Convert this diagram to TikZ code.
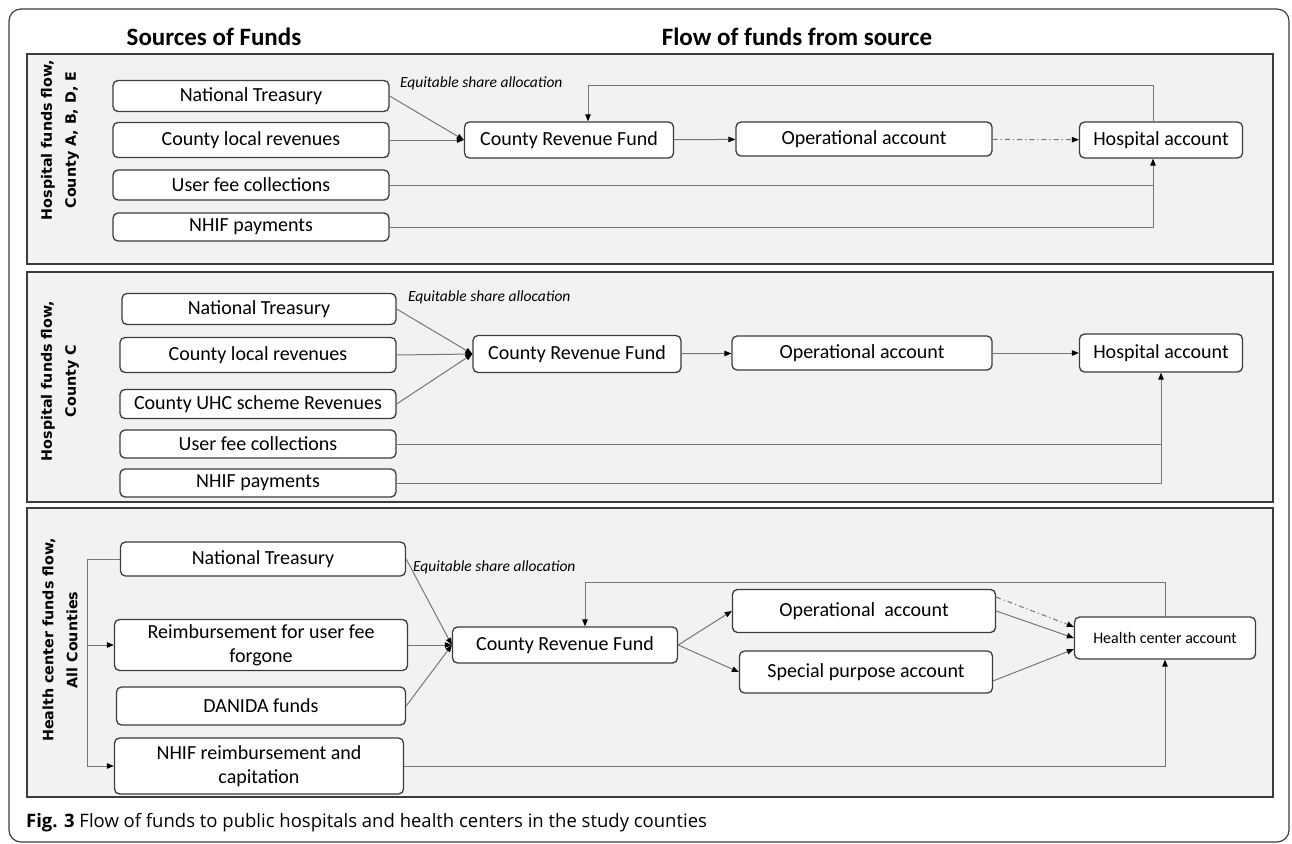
\documentclass[tikz,border=0pt]{standalone}
\usepackage{fontspec}
\setmainfont{Carlito}
\newfontfamily\sidefont{DejaVu Sans}
\newfontfamily\capfont{Open Sans}
\usetikzlibrary{arrows.meta}
\definecolor{panelgray}{HTML}{F2F2F2}
\definecolor{edgegray}{HTML}{3C3C3C}
\definecolor{linegray}{HTML}{767676}

\begin{document}
\begin{tikzpicture}[
  x=1pt,
  y=-1pt,
  inner sep=0pt,
%  text height=1.7ex,
%  text depth=.25ex,
  box/.style={
    draw=edgegray,
    line width=1.3pt,
    fill=white,
    rounded corners=5pt,
    align=center,
    font=\fontsize{20}{24}\selectfont
  },
  size/.style 2 args={
    minimum width=#1pt,
    minimum height=#2pt
  },
  panel/.style={
    draw=edgegray,
    line width=1.5pt,
    fill=panelgray
  },
  side/.style={
    rotate=90,
    align=center,
    font=\sidefont\bfseries\fontsize{14.3}{24}\selectfont
  },
  head/.style={
    font=\bfseries\fontsize{25}{30}\selectfont
  },
  note/.style={
    anchor=west,
    font=\itshape\fontsize{15.5}{18}\selectfont
  },
  line/.style={
    draw=linegray,
    line width=1pt
  },
  a/.style={
    -{Triangle[length=7pt,width=5.5pt,color=black]},
    line
  },
  dashdot/.style={
    dash pattern=on 5pt off 3pt on 1.2pt off 3pt
  }
  ]

  \useasboundingbox (0,0) rectangle (1292,843);
  \draw [draw=edgegray,line width=1.2pt,rounded corners=12pt] (9,9) rectangle (1289,842);

  \node (head-src) [head] at (214,37) {Sources of Funds};
  \node (head-flow) [head] at (797,37) {Flow of funds from source};

  \draw [panel] (27,54) rectangle (1273,264);
  \draw [panel] (27,272) rectangle (1273,502);
  \draw [panel] (27,508) rectangle (1273,797);

  \node (side-a) [side] at (60,140) {Hospital funds flow,\\County A, B, D, E};
  \node (side-b) [side] at (60,381) {Hospital funds flow,\\County C};
  \node (side-c) [side] at (60,640) {Health center funds flow,\\All Counties};

  % hospitals, counties A, B, D, E
  \node (nt-a) [box,size={276}{31}] at (251,96) {National Treasury};
  \node (clr-a) [box,size={276}{35}] at (251,140) {County local revenues};
  \node (ufc-a) [box,size={276}{30}] at (251,185) {User fee collections};
  \node (nhif-a) [box,size={276}{28}] at (251,227) {NHIF payments};
  \node (crf-a) [box,size={209}{36}] at (569,140) {County Revenue Fund};
  \node (op-a) [box,size={256}{34}] at (864,139) {Operational account};
  \node (hosp-a) [box,size={163}{36}] at (1161,140) {Hospital account};
  \node (esa-a) [note] at (400,83) {Equitable share allocation};
  \coordinate (fb-a) at (588,85);
  \coordinate (hx-a) at (1153,85);

  % hospitals, county C
  \node (nt-b) [box,size={274}{31}] at (259,309) {National Treasury};
  \node (clr-b) [box,size={276}{35}] at (258,355) {County local revenues};
  \node (uhc-b) [box,size={276}{29}] at (258,404) {County UHC scheme Revenues};
  \node (ufc-b) [box,size={276}{28}] at (258,444) {User fee collections};
  \node (nhif-b) [box,size={276}{28}] at (258,483) {NHIF payments};
  \node (crf-b) [box,size={208}{37}] at (577,354) {County Revenue Fund};
  \node (op-b) [box,size={260}{34}] at (862,353) {Operational account};
  \node (hosp-b) [box,size={163}{38}] at (1161,353) {Hospital account};
  \node (esa-b) [note] at (408,297) {Equitable share allocation};

  % health centers, all counties
  \node (nt-c) [box,size={285}{34}] at (263,559) {National Treasury};
  \node (rmb-c) [box,size={293}{51}] at (261,645) {Reimbursement for user fee\\forgone};
  \node (dan-c) [box,size={289}{38}] at (261,706) {DANIDA funds};
  \node (nhif-c) [box,size={289}{56}] at (259,766) {NHIF reimbursement and\\capitation};
  \node (crf-c) [box,size={225}{36}] at (565,645) {County Revenue Fund};
  \node (op-c) [box,size={263}{43}] at (864,611) {Operational\ \ account};
  \node (sp-c) [box,size={253}{42}] at (866,672) {Special purpose account};
  \node (hc-c) [box,size={181}{42},font=\fontsize{16}{20}\selectfont] at (1165,638) {Health center account};
  \node (esa-c) [note] at (413,567) {Equitable share allocation};
  \coordinate (fb-c) at (585,582);
  \coordinate (br-c) at (87,559);

  \draw [->,a] (nt-a.east) to (crf-a.west);
  \draw [->,a] (clr-a.east) to (crf-a.west);
  \draw [->,a] (crf-a) to (op-a);
  \draw [->,a,dashdot] (op-a) to (hosp-a);
  \draw [->,a] (hosp-a.north -| hx-a) -- (hx-a) -- (fb-a) -- (fb-a |- crf-a.north);
  \draw [line] (ufc-a.east) -- (ufc-a.east -| hx-a);
  \draw [->,a] (nhif-a.east) -| (hx-a |- hosp-a.south);

  \draw [->,a] (nt-b.east) to (crf-b.west);
  \draw [->,a] (clr-b.east) to (crf-b.west);
  \draw [->,a] (uhc-b.east) to (crf-b.west);
  \draw [->,a] (crf-b) to (op-b);
  \draw [->,a] (op-b) to (hosp-b);
  \draw [line] (ufc-b.east) -- (ufc-b.east -| hosp-b.south);
  \draw [->,a] (nhif-b.east) -| (hosp-b.south);

  \draw [->,a] (nt-c.west) -- (br-c) |- (nhif-c.west);
  \draw [->,a] (br-c |- rmb-c.west) -- (rmb-c.west);
  \draw [->,a] (nt-c.east) to (crf-c.west);
  \draw [->,a] (rmb-c.east) to (crf-c.west);
  \draw [->,a] (dan-c.east) to (crf-c.west);
  \draw [->,a] (crf-c.east) to (op-c.west);
  \draw [->,a] (crf-c.east) to (sp-c.west);
  \draw [->,a] (op-c.east) to (hc-c.west);
  \draw [->,a,dashdot] (op-c.6) to (hc-c.173);
  \draw [->,a] (sp-c.-4.5) to (hc-c.187.5);
  \draw [->,a] (hc-c.north) |- (fb-c) -- (fb-c |- crf-c.north);
  \draw [->,a] (nhif-c.east) -| (hc-c.south);

  \node (caption) [anchor=west,font=\capfont\fontsize{18.5}{22}\selectfont] at (26,823)
    {\textbf{Fig. 3} Flow of funds to public hospitals and health centers in the study counties};
\end{tikzpicture}
\end{document}
